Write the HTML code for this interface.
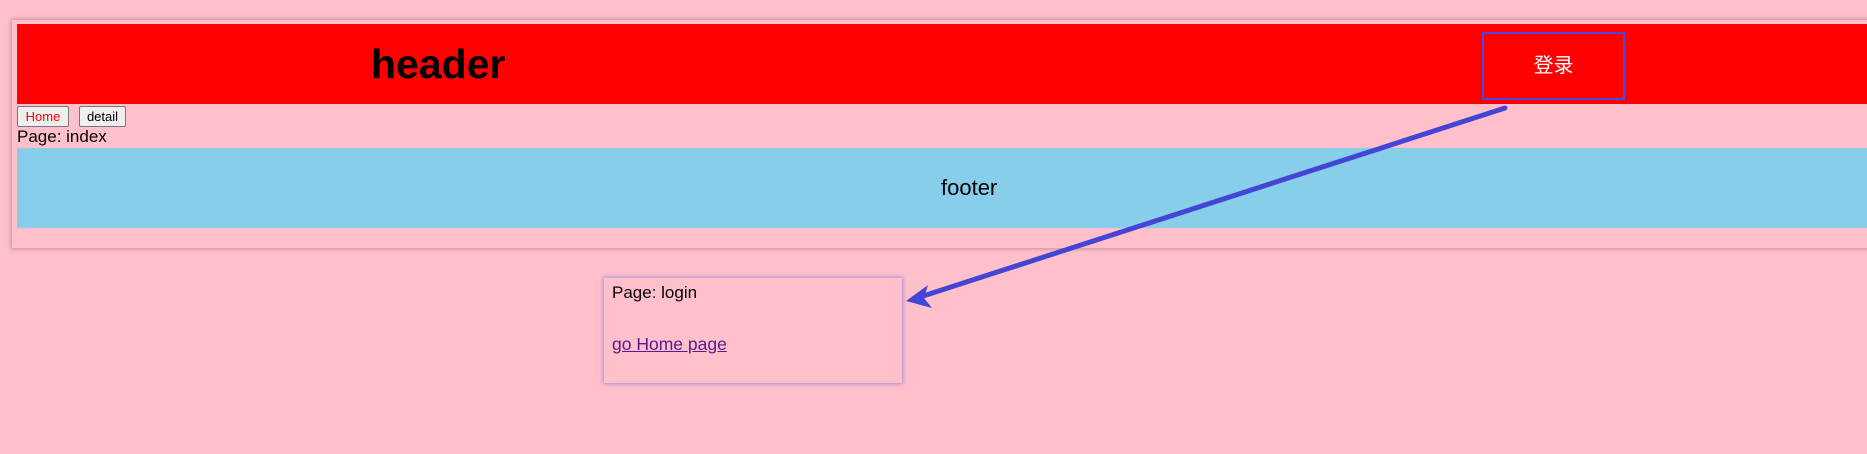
<!DOCTYPE html>
<html><head><meta charset="utf-8"><style>
html,body{margin:0;padding:0;width:1867px;height:454px;background:#ffc0cb;overflow:hidden;font-family:"Liberation Sans","Noto Sans CJK SC",sans-serif;}
.abs{position:absolute;}
.panel{left:12px;top:20px;width:1900px;height:228px;background:#ffc0cb;box-shadow:0 0 4px 1px rgba(120,80,90,0.45);}
.hdr{left:17px;top:24px;width:1900px;height:80px;background:#ff0000;}
.btn{top:106px;height:19px;border:1px solid #767676;border-radius:2px;background:#efefef;font-size:13px;line-height:19px;text-align:center;}
.ftr{left:17px;top:148px;width:1900px;height:80px;background:#87ceeb;}
</style></head><body>
<div class="abs panel"></div>
<div class="abs hdr"></div>
<div class="abs" style="left:371px;top:40px;font-size:41px;font-weight:bold;color:#000;line-height:48px;">header</div>
<div class="abs" style="left:1482px;top:32px;width:139px;height:64px;border:2px solid #4a4ae0;color:#fff;font-size:20px;line-height:64px;text-align:center;">登录</div>
<div class="abs btn" style="left:17px;width:50px;color:#ff0000;">Home</div>
<div class="abs btn" style="left:79px;width:45px;color:#000;">detail</div>
<div class="abs" style="left:17px;top:127px;font-size:17px;line-height:20px;color:#000;">Page: index</div>
<div class="abs ftr"></div>
<div class="abs" style="left:941px;top:175px;font-size:22px;line-height:26px;color:#000;">footer</div>
<div class="abs" style="left:604px;top:278px;width:298px;height:105px;background:#ffc0cb;box-shadow:0 0 4px 1px rgba(110,110,230,0.6);"></div>
<div class="abs" style="left:612px;top:283px;font-size:17px;line-height:20px;color:#000;">Page: login</div>
<div class="abs" style="left:612px;top:334px;font-size:17.5px;line-height:20px;color:#551a8b;text-decoration:underline;">go Home page</div>
<svg class="abs" style="left:0;top:0" width="1867" height="454">
<line x1="1505" y1="108" x2="920" y2="297" stroke="#4545d5" stroke-width="5" stroke-linecap="round"/>
<polygon points="906,301 928,285 924,298 932,308" fill="#4545d5"/>
</svg>
</body></html>
